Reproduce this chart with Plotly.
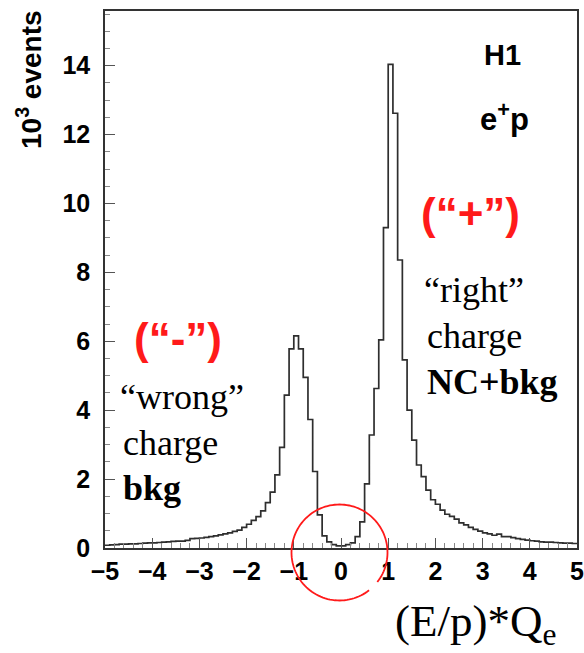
import numpy as np
import plotly.graph_objects as go

# ---- data (10^3 events per 0.1 bin of (E/p)*Q_e) ----
bin_width = 0.1
bin_lo = np.round(np.arange(-5.0, 5.0, bin_width), 1)
counts = [
    0.08, 0.09, 0.10, 0.11, 0.11, 0.12, 0.12, 0.13, 0.14, 0.15,   # -5.0 .. -4.1
    0.15, 0.16, 0.17, 0.18, 0.19, 0.20, 0.20, 0.22, 0.27, 0.28,   # -4.0 .. -3.1
    0.29, 0.31, 0.33, 0.35, 0.38, 0.41, 0.44, 0.48, 0.52, 0.60,   # -3.0 .. -2.1
    0.69, 0.80, 0.91, 1.08, 1.32, 1.62, 2.12, 2.92, 4.44, 5.78,   # -2.0 .. -1.1
    6.16, 5.78, 4.95, 3.73, 2.22, 0.96, 0.35, 0.18, 0.10, 0.06,   # -1.0 .. -0.1
    0.06, 0.10, 0.15, 0.33, 0.76, 1.86, 3.28, 4.63, 6.04, 9.30,   #  0.0 ..  0.9
    14.04, 12.62, 8.36, 5.46, 4.00, 3.13, 2.41, 2.07, 1.68, 1.40, #  1.0 ..  1.9
    1.27, 1.10, 0.98, 0.92, 0.84, 0.73, 0.67, 0.60, 0.54, 0.49,   #  2.0 ..  2.9
    0.44, 0.41, 0.37, 0.40, 0.33, 0.33, 0.30, 0.27, 0.25, 0.23,   #  3.0 ..  3.9
    0.21, 0.20, 0.18, 0.17, 0.17, 0.16, 0.15, 0.14, 0.14, 0.13,   #  4.0 ..  4.9
]
x_ticks = [-5, -4, -3, -2, -1, 0, 1, 2, 3, 4, 5]
y_ticks = [0, 2, 4, 6, 8, 10, 12, 14]

# ---- layout geometry (pixels) ----
FW, FH = 584, 653
L, R, T, B = 105, 577, 11, 548
PW, PH = R - L, B - T


def px(X):
    return (X - L) / PW


def py(Y):
    return (B - Y) / PH


SANS = "Liberation Sans, Arial, Helvetica, sans-serif"
SERIF = "Liberation Serif, Times New Roman, serif"
RED = "#ff1a1a"

xs = list(bin_lo) + [5.0]
ys = list(counts) + [counts[-1]]

fig = go.Figure()
fig.add_trace(go.Scatter(
    x=xs, y=ys, mode="lines", line=dict(shape="hv", color="#2e2e2e", width=1.7),
    hoverinfo="skip", showlegend=False,
))

axis_common = dict(
    showgrid=False, zeroline=False, showline=True, mirror=True, automargin=False,
    linecolor="#333333", linewidth=1.5, ticks="inside", tickcolor="#555555",
    tickwidth=1, ticklabeloverflow="allow",
    tickfont=dict(family=SANS, size=25, color="black", weight="bold"),
)

fig.update_layout(
    template="none",
    width=FW, height=FH,
    margin=dict(l=L, r=FW - R, t=T, b=FH - B, autoexpand=False),
    paper_bgcolor="white", plot_bgcolor="white",
    xaxis=dict(range=[-5, 5], tickvals=x_ticks, ticklen=10,
               minor=dict(dtick=0.2, ticklen=5, ticks="inside", tickcolor="#888888"),
               ticklabelstandoff=0, **axis_common),
    yaxis=dict(range=[0, (B - T) / 34.45], tickvals=y_ticks, ticklen=10,
               minor=dict(dtick=0.5, ticklen=5, ticks="inside", tickcolor="#888888"),
               ticklabelstandoff=8, **axis_common),
)

ann = []


def add_text(text, X, Y, size, family, color="black", xanchor="center", bold=False, angle=0):
    ann.append(dict(
        text=text, x=px(X), y=py(Y), xref="paper", yref="paper", showarrow=False,
        xanchor=xanchor, yanchor="middle", textangle=angle,
        font=dict(family=family, size=size, color=color, weight="bold" if bold else "normal"),
    ))


add_text("10<sup>3</sup> events", 29, 80, 28, SANS, bold=True, angle=-90)
add_text("H1", 523, 55, 29, SANS, xanchor="right", bold=True)
add_text("e<sup>+</sup>p", 531, 117, 31, SANS, xanchor="right", bold=True)
add_text("(\u201c+\u201d)", 470, 213, 44, SANS, color=RED, bold=True)
add_text("(\u201c-\u201d)", 178, 338, 44, SANS, color=RED, bold=True)
add_text("\u201cright\u201d", 422, 290, 36, SERIF, xanchor="left")
add_text("charge", 425, 336, 36, SERIF, xanchor="left")
add_text("NC+bkg", 425, 382, 36, SERIF, xanchor="left", bold=True)
add_text("\u201cwrong\u201d", 118, 397, 36, SERIF, xanchor="left")
add_text("charge", 121, 443, 36, SERIF, xanchor="left")
add_text("bkg", 121, 488, 36, SERIF, xanchor="left", bold=True)
add_text("(E/p)*Q<sub>e</sub>", 475, 624, 45, SERIF)
fig.update_layout(annotations=ann)

# red circle highlighting the region around 0 (drawn in paper coordinates)
cx, cy, rad = 339.5, 552.5, 48.0
theta = np.radians(np.linspace(52, 398, 120))
pts = [(px(cx + rad * np.cos(t)), py(cy + rad * np.sin(t))) for t in theta]
path = "M " + " L ".join(f"{a:.5f},{b:.5f}" for a, b in pts)
fig.add_shape(type="path", path=path, xref="paper", yref="paper",
              line=dict(color=RED, width=1.8), layer="above")

fig.write_html(
    "out.html",
    config={"displayModeBar": False},
    post_script="document.body.style.margin='0px';document.body.style.overflow='hidden';",
)
